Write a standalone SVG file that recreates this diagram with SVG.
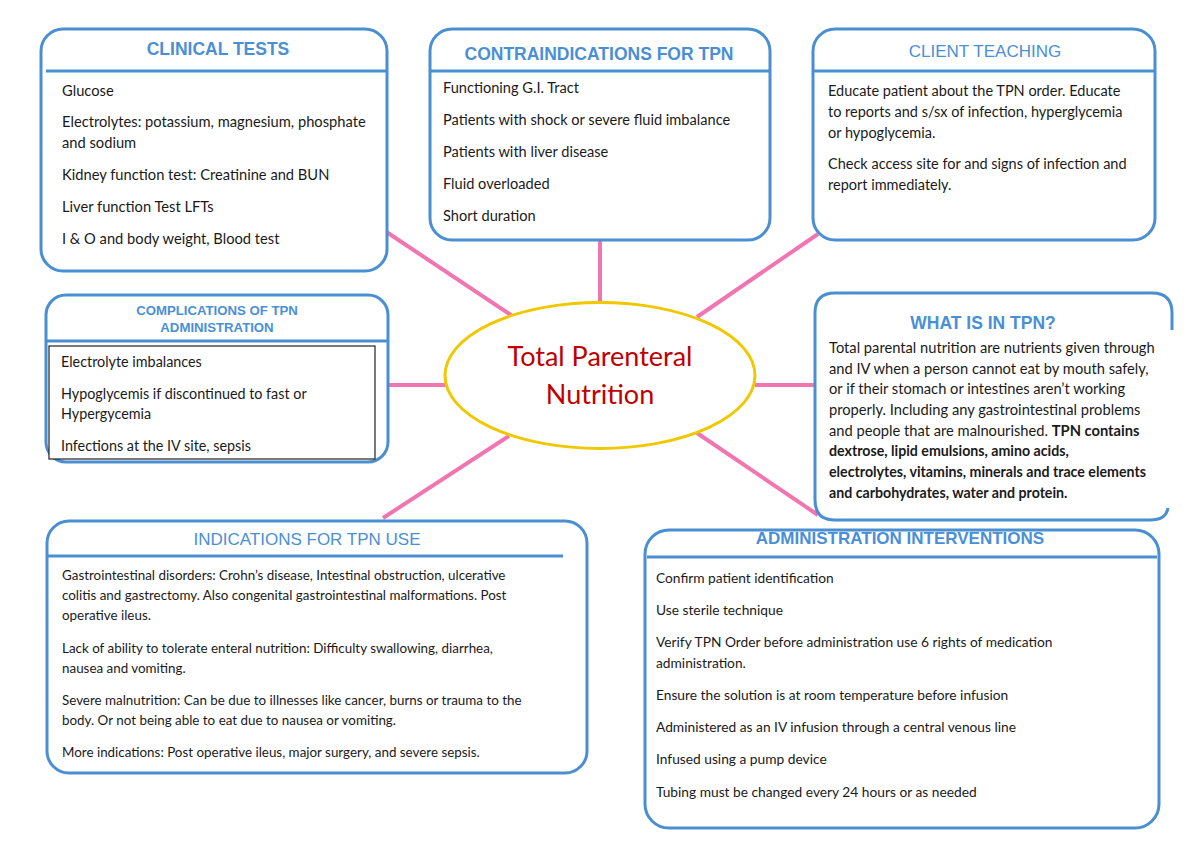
<svg xmlns="http://www.w3.org/2000/svg" width="1200" height="849" viewBox="0 0 1200 849">
<style>
.box{fill:#fff;stroke:#4a8fd2;stroke-width:3;}
.fillonly{fill:#fff;stroke:none;}
.hl{stroke:#4a8fd2;stroke-width:3;fill:none;}
.tb{font-family:"Liberation Sans",Arial,sans-serif;font-weight:bold;fill:#4a8fd6;text-anchor:middle;}
.tr{font-family:"Liberation Sans",Arial,sans-serif;fill:#4a8fd6;text-anchor:middle;}
.t{font-family:Lato,"Liberation Sans",sans-serif;font-size:14px;fill:#1a1a1a;}
.b{font-weight:bold;}
.con{stroke:#f075b0;stroke-width:4;fill:none;}
</style>
<rect width="1200" height="849" fill="#fff"/>
<g id="connectors">
<line class="con" x1="600" y1="240" x2="600" y2="302"/>
<line class="con" x1="385" y1="231" x2="511" y2="315"/>
<line class="con" x1="818" y1="234" x2="697" y2="317"/>
<line class="con" x1="388" y1="385" x2="446" y2="385"/>
<line class="con" x1="755" y1="385" x2="816" y2="385"/>
<line class="con" x1="509" y1="436" x2="383" y2="518"/>
<line class="con" x1="697" y1="433" x2="818" y2="515"/>
</g>
<g id="center">
<ellipse cx="600" cy="375.5" rx="155" ry="73" fill="#fff" stroke="#f0c800" stroke-width="3"/>
<text x="600" y="366" text-anchor="middle" font-family="Lato,'Liberation Sans',sans-serif" font-size="27" fill="#c00000">Total Parenteral</text>
<text x="600" y="404" text-anchor="middle" font-family="Lato,'Liberation Sans',sans-serif" font-size="27" fill="#c00000">Nutrition</text>
</g>
<g id="clinical-tests" font-size="14.7">
<rect class="box" x="41" y="29" width="346" height="242" rx="22"/>
<line class="hl" x1="46" y1="71" x2="387" y2="71"/>
<text class="tb" x="218" y="55" font-size="17.5">CLINICAL TESTS</text>
<text class="t" style="font-size:14.7px" x="62" y="96">Glucose</text>
<text class="t" style="font-size:14.7px" x="62" y="127">Electrolytes: potassium, magnesium, phosphate</text>
<text class="t" style="font-size:14.7px" x="62" y="148">and sodium</text>
<text class="t" style="font-size:14.7px" x="62" y="180">Kidney function test: Creatinine and BUN</text>
<text class="t" style="font-size:14.7px" x="62" y="212">Liver function Test LFTs</text>
<text class="t" style="font-size:14.7px" x="62" y="244">I &amp; O and body weight, Blood test</text>
</g>
<g id="contraindications">
<rect class="box" x="430" y="29" width="340" height="211" rx="22"/>
<line class="hl" x1="431" y1="71" x2="769" y2="71"/>
<text class="tb" x="599" y="60" font-size="17.5">CONTRAINDICATIONS FOR TPN</text>
<text class="t" style="font-size:14.6px" x="443" y="93">Functioning G.I. Tract</text>
<text class="t" style="font-size:14.6px" x="443" y="125">Patients with shock or severe fluid imbalance</text>
<text class="t" style="font-size:14.6px" x="443" y="157">Patients with liver disease</text>
<text class="t" style="font-size:14.6px" x="443" y="189">Fluid overloaded</text>
<text class="t" style="font-size:14.6px" x="443" y="221">Short duration</text>
</g>
<g id="client-teaching">
<rect class="box" x="813" y="29" width="342" height="211" rx="22"/>
<line class="hl" x1="814" y1="71" x2="1154" y2="71"/>
<text class="tr" x="985" y="57" font-size="17">CLIENT TEACHING</text>
<text class="t" style="font-size:14.5px" x="828" y="96">Educate patient about the TPN order. Educate</text>
<text class="t" style="font-size:14.5px" x="828" y="117">to reports and s/sx of infection, hyperglycemia</text>
<text class="t" style="font-size:14.5px" x="828" y="138">or hypoglycemia.</text>
<text class="t" style="font-size:14.5px" x="828" y="169">Check access site for and signs of infection and</text>
<text class="t" style="font-size:14.5px" x="828" y="190">report immediately.</text>
</g>
<g id="complications">
<rect class="box" x="46" y="295" width="342" height="167" rx="20"/>
<line class="hl" x1="47" y1="341" x2="387" y2="341"/>
<rect x="49" y="346" width="326" height="113" fill="#fff" stroke="#222" stroke-width="1.2"/>
<text class="tb" x="217" y="315" font-size="13.2">COMPLICATIONS OF TPN</text>
<text class="tb" x="217" y="332" font-size="13.2">ADMINISTRATION</text>
<text class="t" style="font-size:14.35px" x="61" y="367">Electrolyte imbalances</text>
<text class="t" style="font-size:14.35px" x="61" y="399">Hypoglycemis if discontinued to fast or</text>
<text class="t" style="font-size:14.35px" x="61" y="419">Hypergycemia</text>
<text class="t" style="font-size:14.35px" x="61" y="451">Infections at the IV site, sepsis</text>
</g>
<g id="what-is-in-tpn">
<path class="fillonly" d="M835,293 H1152 Q1172,293 1172,313 V520 H835 Q815,520 815,500 V313 Q815,293 835,293 Z"/>
<path class="hl" d="M1172,330 V313 Q1172,293 1152,293 H835 Q815,293 815,313 V500 Q815,520 835,520 H1150 Q1166,520 1168,508"/>
<text class="tb" x="983" y="329" font-size="17.5">WHAT IS IN TPN?</text>
<text class="t" style="font-size:14.7px" x="829" y="353">Total parental nutrition are nutrients given through</text>
<text class="t" style="font-size:14.7px" x="829" y="374">and IV when a person cannot eat by mouth safely,</text>
<text class="t" style="font-size:14.7px" x="829" y="394">or if their stomach or intestines aren’t working</text>
<text class="t" style="font-size:14.7px" x="829" y="415">properly. Including any gastrointestinal problems</text>
<text class="t" style="font-size:14.7px" x="829" y="436">and people that are malnourished. <tspan class="b">TPN contains</tspan></text>
<text class="t b" style="font-size:14.2px" x="829" y="456">dextrose, lipid emulsions, amino acids,</text>
<text class="t b" style="font-size:14.2px" x="829" y="477">electrolytes, vitamins, minerals and trace elements</text>
<text class="t b" style="font-size:14.2px" x="829" y="498">and carbohydrates, water and protein.</text>
</g>
<g id="indications">
<rect class="box" x="47" y="521" width="540" height="252" rx="22"/>
<line class="hl" x1="48" y1="556" x2="563" y2="556"/>
<text class="tr" x="307" y="545" font-size="17">INDICATIONS FOR TPN USE</text>
<text class="t" style="font-size:13.4px" x="62" y="580">Gastrointestinal disorders: Crohn’s disease, Intestinal obstruction, ulcerative</text>
<text class="t" style="font-size:13.4px" x="62" y="600">colitis and gastrectomy. Also congenital gastrointestinal malformations. Post</text>
<text class="t" style="font-size:13.4px" x="62" y="620">operative ileus.</text>
<text class="t" style="font-size:13.4px" x="62" y="653">Lack of ability to tolerate enteral nutrition: Difficulty swallowing, diarrhea,</text>
<text class="t" style="font-size:13.4px" x="62" y="673">nausea and vomiting.</text>
<text class="t" style="font-size:13.4px" x="62" y="705">Severe malnutrition: Can be due to illnesses like cancer, burns or trauma to the</text>
<text class="t" style="font-size:13.4px" x="62" y="725">body. Or not being able to eat due to nausea or vomiting.</text>
<text class="t" style="font-size:13.4px" x="62" y="757">More indications: Post operative ileus, major surgery, and severe sepsis.</text>
</g>
<g id="administration">
<rect class="box" x="645" y="530" width="514" height="298" rx="24"/>
<line class="hl" x1="647" y1="557" x2="1157" y2="557"/>
<text class="tb" x="900" y="544" font-size="17">ADMINISTRATION INTERVENTIONS</text>
<text class="t" style="font-size:13.75px" x="656" y="583">Confirm patient identification</text>
<text class="t" style="font-size:13.75px" x="656" y="615">Use sterile technique</text>
<text class="t" style="font-size:13.75px" x="656" y="647">Verify TPN Order before administration use 6 rights of medication</text>
<text class="t" style="font-size:13.75px" x="656" y="668">administration.</text>
<text class="t" style="font-size:13.75px" x="656" y="700">Ensure the solution is at room temperature before infusion</text>
<text class="t" style="font-size:13.75px" x="656" y="732">Administered as an IV infusion through a central venous line</text>
<text class="t" style="font-size:13.75px" x="656" y="764">Infused using a pump device</text>
<text class="t" style="font-size:13.75px" x="656" y="797">Tubing must be changed every 24 hours or as needed</text>
</g>
</svg>
